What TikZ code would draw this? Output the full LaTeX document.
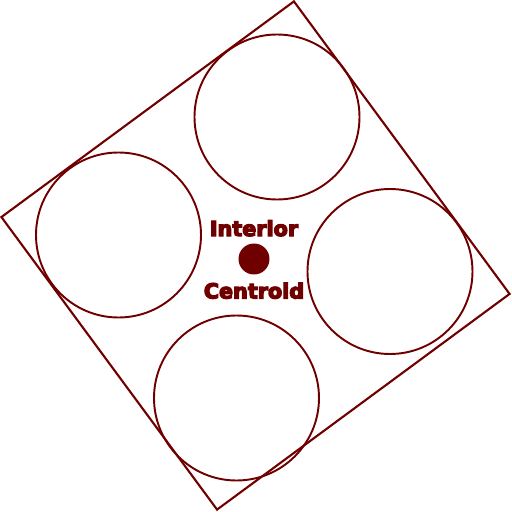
\documentclass[tikz,border=0pt]{standalone}
\usepackage{fontspec}
\setsansfont{DejaVu Sans}
\usetikzlibrary{positioning}
\definecolor{plotred}{RGB}{112,0,0}
\newcommand{\heavytext}[1]{\special{pdf:literal direct 2 Tr 0.7 w}#1\special{pdf:literal direct 0 Tr}}
\tikzset{
  frame/.style={draw=plotred,line width=1.2pt,line join=miter},
  disk/.style={draw=plotred,line width=1.1pt},
  centroid/.style={circle,fill=plotred,minimum size=0.62cm,inner sep=0pt},
  tag/.style={font=\sffamily\bfseries\fontsize{11.8}{14}\selectfont,
              text=plotred,inner sep=0pt},
}
\begin{document}
\begin{tikzpicture}[x=0.02cm,y=0.02cm]
  \useasboundingbox (0,0) rectangle (512,512);
  % ---------------- tilted square ----------------
  \begin{scope}[shift={(255.5,256.5)},rotate=-8.6]
    \draw[frame] (0,257) -- (257,0) -- (0,-257) -- (-257,0) -- cycle;
  \end{scope}
  % ---------------- four disks ----------------
  \foreach \cx/\cy in {277/395,118.5/277,390/240.5,236.5/114}{
    \draw[disk] (\cx,\cy) circle[radius=82.5];}
  % ---------------- centroid ----------------
  \node[centroid] (dot) at (254,253) {};
  \node[tag,above=0.13cm of dot] (interior) {\heavytext{Interior}};
  \node[tag,below=0.15cm of dot] (centroidtag) {\heavytext{Centroid}};
\end{tikzpicture}
\end{document}
